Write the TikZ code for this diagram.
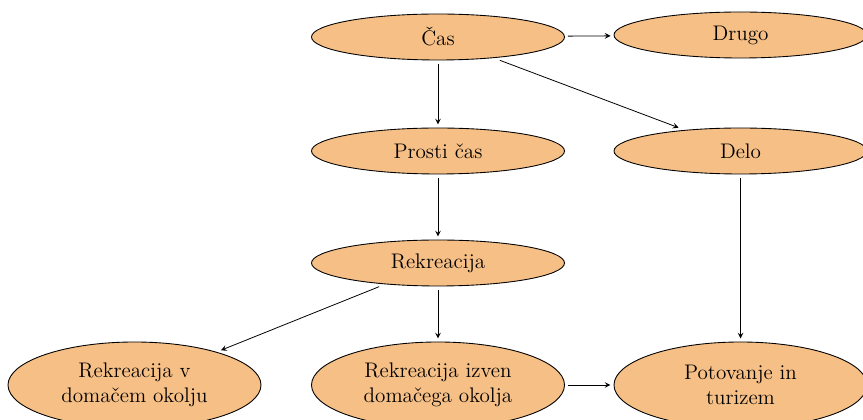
\documentclass[tikz,border=0pt]{standalone}
\usepackage{xcolor}
\usepackage{tikz}
\usetikzlibrary{arrows,shapes,positioning,calc}

\definecolor{ellfill}{RGB}{245,191,134}

\tikzset{
  oval/.style={ellipse, draw=black, fill=ellfill, line width=0.5pt, minimum width=5.06cm, minimum height=0.92cm, inner sep=0pt, outer sep=2pt, font=\large, align=center},
  twoline/.style={oval, minimum height=1.72cm},
  link/.style={-stealth, line width=0.45pt}
}

\begin{document}
\begin{tikzpicture}
\clip (0,0) rectangle (17.26,8.4);
\useasboundingbox (0,0) rectangle (17.26,8.4);

% Top row
\node[oval] (cas) at (8.76, 7.66) {Čas};
\node[oval] (drugo) at (14.81, 7.70) {Drugo};

% Middle rows
\node[oval] (prosti) at (8.76, 5.38) {Prosti čas};
\node[oval] (delo) at (14.81, 5.38) {Delo};
\node[oval] (rekr) at (8.76, 3.14) {Rekreacija};

% Bottom row
\node[twoline] (doma) at (2.69, 0.70) {Rekreacija v\\domačem okolju};
\node[twoline] (izven) at (8.76, 0.70) {Rekreacija izven\\domačega okolja};
\node[twoline] (turizem) at (14.81, 0.70) {Potovanje in\\turizem};

% Arrows
\draw[link] (cas) -- (drugo);
\draw[link] (cas) -- (prosti);
\draw[link] (cas) -- (delo);
\draw[link] (prosti) -- (rekr);
\draw[link] (delo) -- (turizem);
\draw[link] (rekr) -- (doma);
\draw[link] (rekr) -- (izven);
\draw[link] (izven) -- (turizem);
\end{tikzpicture}
\end{document}
